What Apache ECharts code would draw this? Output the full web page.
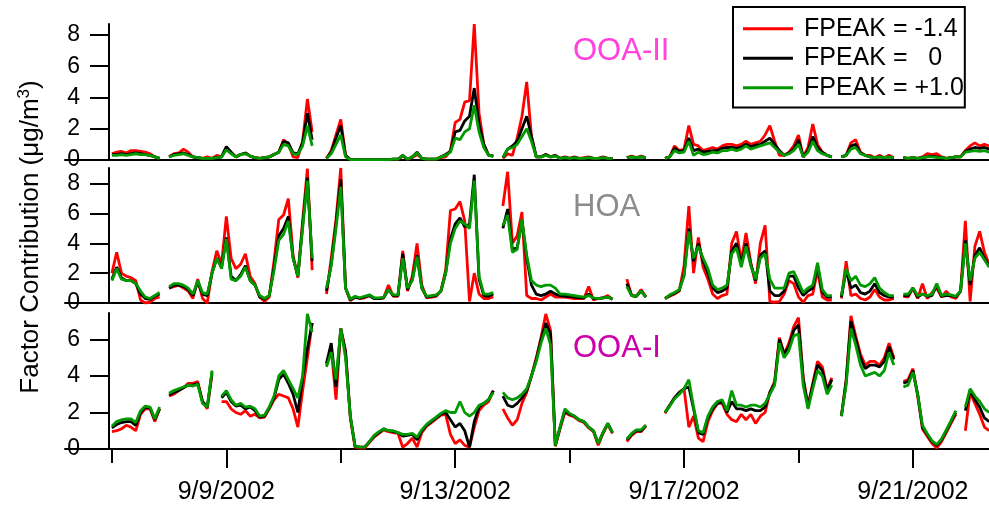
<!DOCTYPE html>
<html>
<head>
<meta charset="utf-8">
<script src="https://cdn.jsdelivr.net/npm/echarts@6/dist/echarts.min.js"></script>
<style>
  html, body { margin: 0; padding: 0; background: #fff; }
  #chart { width: 989px; height: 512px; }
</style>
</head>
<body>
<div id="chart"></div>
<script>
// Samples every 2 hours starting 9/7/2002 00:00; x values are days since then.
const STEP_DAYS = 2 / 24;

const seriesNames = ['FPEAK = -1.4', 'FPEAK =   0', 'FPEAK = +1.0'];
const seriesColors = ['#ff0000', '#000000', '#009900'];
const panelNames = ['OOA-II', 'HOA', 'OOA-I'];
const panelColors = ['#ff44dd', '#8c8c8c', '#cc00aa'];

const tickDays = [2, 6, 10, 14];
const tickLabels = ['9/9/2002', '9/13/2002', '9/17/2002', '9/21/2002'];
const minorTickDays = [0, 4, 8, 12];
const yTicksTop = [0, 2, 4, 6, 8];
const yTicksMid = [0, 2, 4, 6, 8];
const yTicksBottom = [0, 2, 4, 6];

// OOA-II factor contribution (ug/m3)
const ooa2Red = [
  0.4, 0.5, 0.55, 0.45, 0.6, 0.6, 0.55, 0.5, 0.4, 0.2, 0.1, null,
  0.2, 0.4, 0.45, 0.7, 0.5, 0.2, 0.15, 0.1, 0.2, 0.1, 0.3, 0.2,
  0.8, 0.5, 0.2, 0.35, 0.45, 0.25, 0.15, 0.1, 0.15, 0.2, 0.35, 0.5,
  1.3, 1.0, 0.2, 0.15, 1.2, 3.9, 1.8, null, null, 0.1, 0.6, 1.6,
  2.6, 0.3, 0.03, 0.03, 0.03, 0.03, 0.03, 0.03, 0.03, 0.03, 0.03, 0.05,
  0.05, 0.25, 0.05, 0.15, 0.35, 0.1, 0.05, 0.05, 0.05, 0.15, 0.2, 0.6,
  2.4, 2.6, 3.7, 3.8, 8.7, 3.0, 1.0, 0.3, 0.25, null, 0.1, 0.4,
  0.3, 1.4, 2.8, 5.0, 1.5, 0.2, 0.2, 0.35, 0.2, 0.3, 0.1, 0.2,
  0.1, 0.2, 0.1, 0.15, 0.2, 0.1, 0.1, 0.2, 0.1, 0.1, null, null,
  0.15, 0.25, 0.15, 0.25, 0.15, null, null, null, 0.1, 0.2, 0.9, 0.6,
  0.7, 2.2, 1.0, 0.9, 0.6, 0.7, 0.8, 0.7, 0.9, 1.0, 1.0, 0.9,
  1.0, 1.2, 1.0, 1.1, 1.2, 1.6, 2.2, 1.2, 0.3, 0.3, 0.5, 0.9,
  1.6, 0.2, 0.8, 2.3, 1.0, 0.5, 0.3, 0.2, null, 0.2, 0.3, 1.1,
  1.3, 0.5, 0.3, 0.3, 0.15, 0.3, 0.15, 0.3, 0.15, null, 0.15, 0.1,
  0.15, 0.1, 0.2, 0.4, 0.35, 0.4, 0.2, 0.1, 0.15, 0.2, 0.2, 0.6,
  0.9, 1.1, 0.9, 1.0, 0.9
];
const ooa2Black = [
  0.35, 0.35, 0.4, 0.35, 0.4, 0.45, 0.4, 0.35, 0.3, 0.2, 0.1, null,
  0.2, 0.35, 0.4, 0.45, 0.35, 0.2, 0.15, 0.1, 0.1, 0.1, 0.15, 0.2,
  0.85, 0.5, 0.2, 0.35, 0.45, 0.25, 0.15, 0.1, 0.15, 0.2, 0.35, 0.5,
  1.2, 1.1, 0.45, 0.4, 1.1, 3.0, 1.3, null, null, 0.1, 0.5, 1.4,
  2.2, 0.3, 0.03, 0.03, 0.03, 0.03, 0.03, 0.03, 0.03, 0.03, 0.03, 0.05,
  0.05, 0.3, 0.05, 0.2, 0.5, 0.1, 0.05, 0.05, 0.05, 0.2, 0.35, 0.55,
  1.8, 1.9, 2.5, 2.8, 4.6, 2.3, 1.0, 0.3, 0.25, null, 0.15, 0.7,
  0.9, 1.2, 2.0, 2.8, 1.5, 0.2, 0.2, 0.35, 0.2, 0.3, 0.1, 0.15,
  0.1, 0.15, 0.1, 0.1, 0.15, 0.1, 0.1, 0.15, 0.1, 0.1, null, null,
  0.15, 0.2, 0.15, 0.2, 0.15, null, null, null, 0.1, 0.2, 0.75, 0.55,
  0.6, 1.4, 0.6, 0.7, 0.5, 0.55, 0.6, 0.6, 0.75, 0.8, 0.8, 0.75,
  0.85, 1.0, 0.85, 0.95, 1.0, 1.2, 1.4, 1.0, 0.6, 0.3, 0.45, 0.7,
  1.3, 0.2, 0.6, 1.5, 0.8, 0.5, 0.3, 0.2, null, 0.2, 0.3, 0.9,
  1.0, 0.45, 0.3, 0.2, 0.15, 0.2, 0.15, 0.2, 0.15, null, 0.15, 0.1,
  0.15, 0.1, 0.15, 0.2, 0.25, 0.2, 0.15, 0.1, 0.15, 0.2, 0.2, 0.55,
  0.7, 0.8, 0.75, 0.8, 0.7
];
const ooa2Green = [
  0.3, 0.3, 0.35, 0.3, 0.35, 0.4, 0.35, 0.35, 0.3, 0.2, 0.1, null,
  0.2, 0.3, 0.35, 0.4, 0.3, 0.2, 0.15, 0.1, 0.1, 0.1, 0.15, 0.2,
  0.65, 0.4, 0.2, 0.35, 0.4, 0.25, 0.15, 0.1, 0.15, 0.2, 0.35, 0.5,
  1.0, 0.9, 0.4, 0.35, 0.9, 2.2, 0.9, null, null, 0.1, 0.4, 1.0,
  1.6, 0.2, 0.03, 0.03, 0.03, 0.03, 0.03, 0.03, 0.03, 0.03, 0.03, 0.05,
  0.05, 0.3, 0.05, 0.2, 0.45, 0.1, 0.05, 0.05, 0.05, 0.2, 0.3, 0.5,
  1.4, 1.3, 1.8, 2.0, 3.5, 1.8, 0.8, 0.3, 0.25, null, 0.15, 0.7,
  0.8, 1.0, 1.5, 2.0, 1.2, 0.2, 0.2, 0.3, 0.2, 0.25, 0.1, 0.15,
  0.1, 0.15, 0.1, 0.1, 0.15, 0.1, 0.1, 0.15, 0.1, 0.1, null, null,
  0.15, 0.2, 0.15, 0.2, 0.15, null, null, null, 0.1, 0.2, 0.6, 0.45,
  0.5, 1.2, 0.3, 0.5, 0.35, 0.4, 0.5, 0.45, 0.6, 0.6, 0.7, 0.6,
  0.7, 0.9, 0.7, 0.8, 0.9, 1.0, 1.1, 0.8, 0.5, 0.3, 0.4, 0.6,
  1.0, 0.2, 0.5, 1.2, 0.6, 0.4, 0.3, 0.2, null, 0.2, 0.3, 0.7,
  0.8, 0.4, 0.3, 0.2, 0.15, 0.2, 0.15, 0.2, 0.15, null, 0.15, 0.1,
  0.15, 0.1, 0.15, 0.2, 0.2, 0.15, 0.15, 0.1, 0.15, 0.2, 0.2, 0.5,
  0.55, 0.6, 0.55, 0.6, 0.5
];

// HOA factor contribution (ug/m3)
const hoaRed = [
  2.0, 3.4, 2.0, 1.8, 1.7, 1.5, 0.2, 0.0, 0.05, 0.3, 0.4, null,
  1.0, 1.1, 1.2, 1.0, 0.8, 0.3, 1.6, 0.3, 0.0, 2.1, 3.5, 2.6,
  5.8, 3.0, 2.3, 2.6, 3.3, 1.8, 1.3, 0.4, 0.1, 0.4, 2.8, 5.6,
  5.9, 7.0, 3.2, 1.7, 5.5, 9.0, 2.2, null, null, 0.6, 3.0, 5.6,
  9.05, 1.0, 0.15, 0.4, 0.3, 0.35, 0.5, 0.3, 0.3, 0.35, 1.2, 0.45,
  0.45, 3.5, 0.8, 1.8, 4.0, 1.2, 0.35, 0.4, 0.45, 0.8, 2.2, 6.2,
  6.3, 6.8, 5.5, 0.1, 2.0, 0.6, 0.3, 0.3, 0.4, null, 6.5, 8.8,
  4.0, 4.5, 6.1, 0.5, 0.3, 0.3, 0.2, 0.4, 0.6, 0.4, 0.4, 0.4,
  0.35, 0.3, 0.3, 0.3, 1.1, 0.2, 0.3, 0.35, 0.5, 0.25, null, null,
  1.6, 0.5, 0.45, 0.9, 0.4, null, null, null, 0.3, 0.45, 0.6, 0.8,
  2.5, 6.5, 2.0, 4.4, 2.4, 1.6, 0.6, 0.3, 0.5, 0.6, 4.0, 4.8,
  2.8, 4.7, 2.7, 1.3, 4.0, 5.2, 0.1, 0.05, 0.1, 0.6, 1.5, 1.3,
  0.4, 0.05, 0.5, 0.6, 2.2, 0.4, 0.2, 0.2, null, 0.3, 2.8, 0.5,
  0.6, 0.3, 0.2, 0.4, 0.9, 0.4, 0.2, 0.2, 0.3, null, 0.45, 0.4,
  1.0, 0.3, 1.3, 0.3, 0.7, 1.0, 0.4, 0.8, 0.4, 0.3, 0.8, 5.5,
  0.1, 3.8, 4.8, 3.4, 2.6
];
const hoaBlack = [
  1.6, 2.4, 1.7, 1.5, 1.5, 1.3, 0.6, 0.3, 0.25, 0.45, 0.6, null,
  1.0, 1.2, 1.2, 1.1, 0.9, 0.5, 1.4, 0.6, 0.5, 2.0, 3.0, 2.4,
  4.4, 1.8, 1.5, 1.9, 2.5, 1.5, 1.2, 0.4, 0.25, 0.5, 2.4, 4.5,
  5.0, 5.8, 3.0, 1.8, 5.2, 8.4, 2.8, null, null, 0.8, 2.6, 5.3,
  8.3, 1.0, 0.2, 0.4, 0.3, 0.4, 0.5, 0.3, 0.3, 0.35, 0.9, 0.5,
  0.5, 3.3, 0.9, 1.6, 3.2, 1.0, 0.4, 0.45, 0.5, 0.8, 2.0, 4.3,
  5.3, 5.7, 5.1, 5.3, 8.6, 1.6, 0.5, 0.45, 0.6, null, 5.0, 6.3,
  3.6, 3.7, 5.5, 3.0, 1.2, 0.6, 0.5, 0.6, 0.8, 0.6, 0.5, 0.45,
  0.45, 0.4, 0.35, 0.35, 0.6, 0.3, 0.3, 0.35, 0.4, 0.25, null, null,
  1.3, 0.5, 0.45, 0.8, 0.4, null, null, null, 0.3, 0.5, 0.65, 0.85,
  1.9, 5.0, 2.8, 4.0, 2.8, 2.0, 1.0, 0.7, 0.8, 1.0, 3.5, 4.0,
  2.6, 4.0, 2.6, 1.5, 3.2, 3.5, 0.8, 0.5, 0.5, 0.8, 1.8, 1.8,
  1.0, 0.5, 0.8, 1.0, 2.5, 0.7, 0.4, 0.4, null, 0.4, 2.2, 1.0,
  1.2, 0.7, 0.6, 0.8, 1.3, 0.7, 0.5, 0.4, 0.4, null, 0.5, 0.5,
  1.0, 0.4, 0.6, 0.45, 0.5, 1.2, 0.45, 0.5, 0.5, 0.4, 0.8, 4.2,
  1.2, 3.2, 3.7, 3.0, 2.5
];
const hoaGreen = [
  1.5, 2.3, 1.6, 1.5, 1.5, 1.3, 0.8, 0.4, 0.3, 0.5, 0.7, null,
  1.1, 1.3, 1.3, 1.2, 1.0, 0.6, 1.5, 0.7, 0.6, 2.0, 3.0, 2.3,
  4.3, 1.6, 1.5, 1.8, 2.4, 1.5, 1.2, 0.5, 0.3, 0.5, 2.2, 4.2,
  4.6, 5.5, 3.0, 1.8, 5.0, 8.2, 3.0, null, null, 1.0, 2.5, 5.0,
  7.8, 1.0, 0.25, 0.45, 0.35, 0.45, 0.55, 0.35, 0.35, 0.4, 0.9, 0.55,
  0.55, 3.0, 1.0, 1.5, 3.1, 1.0, 0.45, 0.5, 0.55, 0.8, 2.0, 4.0,
  5.0, 5.5, 5.3, 5.0, 8.2, 1.8, 0.6, 0.6, 0.7, null, 5.2, 5.9,
  3.4, 3.6, 5.6, 3.2, 1.5, 1.2, 1.1, 1.2, 1.2, 1.0, 0.6, 0.6,
  0.55, 0.5, 0.45, 0.4, 0.5, 0.35, 0.3, 0.35, 0.4, 0.25, null, null,
  1.1, 0.5, 0.45, 0.8, 0.4, null, null, null, 0.3, 0.55, 0.7, 0.9,
  1.8, 4.8, 3.0, 3.8, 3.0, 2.3, 1.2, 0.9, 1.0, 1.2, 3.3, 3.7,
  2.4, 3.8, 2.5, 1.6, 3.0, 3.3, 1.6, 1.0, 1.0, 1.0, 2.0, 2.1,
  1.4, 0.7, 1.0, 1.2, 2.7, 0.9, 0.5, 0.5, null, 0.5, 2.3, 1.5,
  1.8, 1.2, 1.1, 1.3, 1.7, 1.0, 0.7, 0.5, 0.5, null, 0.6, 0.6,
  1.0, 0.5, 0.6, 0.5, 0.6, 1.3, 0.5, 0.6, 0.55, 0.45, 0.8, 4.0,
  1.5, 3.0, 3.4, 2.9, 2.4
];

// OOA-I factor contribution (ug/m3)
const ooa1Red = [
  0.95, 1.0, 1.1, 1.3, 1.2, 1.0, 1.9, 2.2, 2.2, 1.5, 2.2, null,
  2.9, 3.0, 3.2, 3.35, 3.6, 3.6, 3.7, 2.6, 2.2, 4.1, null, 2.6,
  2.6, 2.2, 2.0, 1.9, 2.1, 1.8, 1.9, 1.7, 1.75, 2.2, 2.7, 3.0,
  2.9, 2.8, 2.2, 1.2, 3.2, 5.0, 6.9, null, null, 4.6, 5.5, 2.7,
  6.6, 5.4, 1.7, 0.1, 0.05, 0.05, 0.35, 0.65, 0.85, 1.05, 0.95, 0.9,
  0.85, 0.1, 0.3, 0.6, 0.1, 0.9, 1.25, 1.45, 1.65, 1.85, 1.9, 0.8,
  0.3, 0.5, 0.2, 0.1, 1.2, 2.1, 2.4, 2.6, 3.2, null, 2.2, 1.7,
  1.3, 1.6, 2.5, 3.1, 4.0, 5.0, 6.1, 7.4, 6.5, 0.15, 1.1, 2.0,
  1.85, 1.75, 1.55, 1.45, 1.15, 0.95, 0.2, 0.85, 1.35, 0.85, null, null,
  0.4, 0.75, 0.95, 0.95, 1.25, null, null, null, 1.95, 2.4, 2.8, 3.1,
  3.3, 1.2, 1.8, 0.6, 0.4, 1.5, 2.1, 2.5, 2.5, 1.9, 1.6, 1.5,
  1.9, 1.6, 1.9, 1.4, 1.8, 2.0, 3.1, 3.7, 6.1, 5.2, 5.8, 6.7,
  7.2, 3.9, 2.4, 3.6, 4.8, 4.5, 3.3, 3.9, null, 1.8, 3.8, 7.3,
  6.2, 5.2, 4.6, 4.8, 4.8, 4.6, 5.0, 5.8, 5.0, null, 3.7, 3.8,
  4.4, 2.9, 1.1, 0.7, 0.3, 0.05, 0.4, 0.9, 1.4, 1.9, null, 1.0,
  3.1, 2.5, 1.9, 1.2, 1.0
];
const ooa1Black = [
  1.15, 1.35, 1.45, 1.5, 1.5, 1.3, 2.0, 2.3, 2.25, 1.6, 2.2, null,
  2.95, 3.1, 3.2, 3.35, 3.5, 3.5, 3.6, 2.6, 2.3, 4.2, null, 2.8,
  3.1, 2.6, 2.35, 2.4, 2.2, 2.3, 2.1, 1.75, 1.8, 2.25, 2.8, 3.8,
  4.1, 3.6, 3.0, 2.0, 3.9, 5.5, 6.9, null, null, 4.7, 5.8, 3.4,
  6.6, 5.3, 1.8, 0.15, 0.1, 0.1, 0.4, 0.7, 0.9, 1.1, 1.0, 0.95,
  0.9, 0.7, 0.75, 0.8, 0.5, 1.0, 1.3, 1.5, 1.7, 1.9, 2.0, 1.6,
  1.2, 1.4, 1.0, 0.1, 1.5, 2.3, 2.5, 2.7, 3.2, null, 2.9, 2.4,
  2.3, 2.5, 2.8, 3.2, 4.0, 4.9, 6.0, 6.9, 6.3, 0.2, 1.2, 2.1,
  1.9, 1.8, 1.6, 1.5, 1.2, 1.0, 0.3, 0.9, 1.4, 0.9, null, null,
  0.5, 0.8, 1.0, 1.0, 1.3, null, null, null, 2.0, 2.4, 2.8, 3.1,
  3.3, 3.4, 2.2, 0.9, 0.8, 1.7, 2.2, 2.5, 2.6, 2.0, 2.6, 2.2,
  2.2, 2.1, 2.2, 2.1, 2.1, 2.3, 3.1, 3.6, 6.0, 5.2, 5.6, 6.5,
  6.8, 3.8, 2.3, 3.5, 4.6, 4.3, 3.2, 3.8, null, 1.8, 3.7, 7.0,
  6.0, 5.0, 4.4, 4.6, 4.6, 4.5, 4.8, 5.6, 4.9, null, 3.6, 3.7,
  4.3, 3.0, 1.2, 0.8, 0.4, 0.2, 0.5, 1.0, 1.5, 2.0, null, 2.1,
  3.2, 2.7, 2.3, 1.7, 1.5
];
const ooa1Green = [
  1.25, 1.5, 1.6, 1.65, 1.65, 1.45, 2.1, 2.35, 2.3, 1.65, 2.3, null,
  3.05, 3.2, 3.3, 3.4, 3.5, 3.45, 3.55, 2.5, 2.3, 4.3, null, 2.9,
  3.2, 2.7, 2.4, 2.5, 2.3, 2.35, 2.2, 1.8, 1.85, 2.3, 2.9, 4.0,
  4.3, 3.8, 3.3, 2.8, 4.0, 7.4, 6.4, null, null, 4.5, 5.3, 3.8,
  6.6, 5.0, 1.8, 0.15, 0.1, 0.1, 0.4, 0.75, 0.95, 1.1, 1.0, 1.0,
  0.9, 0.8, 0.8, 0.85, 0.65, 1.05, 1.35, 1.55, 1.75, 1.95, 2.1, 2.0,
  2.0, 2.6, 2.0, 1.8, 2.0, 2.4, 2.5, 2.7, 3.1, null, 3.1, 2.8,
  2.7, 2.8, 3.0, 3.3, 4.0, 4.8, 5.8, 6.6, 5.7, 0.2, 1.2, 2.2,
  1.95, 1.8, 1.6, 1.5, 1.2, 1.0, 0.3, 0.9, 1.4, 0.9, null, null,
  0.55, 0.85, 1.05, 1.05, 1.3, null, null, null, 2.0, 2.35, 2.75, 3.0,
  3.3, 3.8, 2.3, 1.0, 0.9, 1.8, 2.3, 2.6, 2.7, 2.1, 3.2, 2.4,
  2.4, 2.3, 2.4, 2.4, 2.3, 2.5, 3.0, 3.5, 5.8, 5.0, 5.4, 6.2,
  6.3, 3.5, 2.2, 3.3, 4.3, 4.0, 3.0, 3.5, null, 1.8, 3.5, 6.6,
  5.7, 4.6, 4.0, 4.1, 4.2, 4.0, 4.3, 5.3, 4.6, null, 3.4, 3.5,
  4.2, 3.0, 1.3, 0.85, 0.45, 0.25, 0.55, 1.05, 1.55, 2.1, null, 2.3,
  3.3, 2.9, 2.6, 2.2, 2.0
];

const panels = [
  { values: [ooa2Red, ooa2Black, ooa2Green], yMax: 8.7, yTicks: yTicksTop },
  { values: [hoaRed, hoaBlack, hoaGreen], yMax: 9.05, yTicks: yTicksMid },
  { values: [ooa1Red, ooa1Black, ooa1Green], yMax: 7.45, yTicks: yTicksBottom }
];

const FONT = '"Liberation Sans", Arial, Helvetica, sans-serif';
const X_MIN = -0.82;
const X_MAX = 15.33;
const AXIS_LINE = { show: true, onZero: false, lineStyle: { color: '#000', width: 2 } };

const grids = [
  { left: 65, right: 0, top: 24, height: 136 },
  { left: 65, right: 0, top: 168, height: 135 },
  { left: 65, right: 0, top: 313, height: 136 }
];

const xAxes = [0, 1, 2].map(g => ({
  gridIndex: g, type: 'value', min: X_MIN, max: X_MAX, position: 'bottom',
  axisLine: AXIS_LINE,
  axisTick: g === 2
    ? { show: true, customValues: minorTickDays, length: 14, lineStyle: { color: '#000', width: 2 } }
    : { show: false },
  axisLabel: { show: false },
  splitLine: { show: false }
}));
// labelled date ticks on the bottom panel
xAxes.push({
  gridIndex: 2, type: 'value', min: X_MIN, max: X_MAX, position: 'bottom',
  axisLine: { show: false, onZero: false },
  axisTick: { show: true, customValues: tickDays, length: 19, lineStyle: { color: '#000', width: 2 } },
  axisLabel: {
    show: true, customValues: tickDays, margin: 31,
    formatter: v => tickLabels[tickDays.indexOf(v)] || '',
    fontSize: 25, fontFamily: FONT, color: '#000'
  },
  splitLine: { show: false }
});

const yAxes = panels.map((p, g) => ({
  gridIndex: g, type: 'value', min: 0, max: p.yMax, offset: -44,
  axisLine: AXIS_LINE,
  axisTick: { show: true, customValues: p.yTicks, length: 19, lineStyle: { color: '#000', width: 2 } },
  axisLabel: { show: true, customValues: p.yTicks, margin: 29, fontSize: 23, fontFamily: FONT, color: '#000' },
  splitLine: { show: false }
}));

const series = [];
panels.forEach((p, g) => {
  p.values.forEach((vals, k) => {
    series.push({
      name: seriesNames[k], type: 'line',
      xAxisIndex: g, yAxisIndex: g,
      data: vals.map((v, i) => [i * STEP_DAYS, v]),
      showSymbol: false, symbol: 'none', connectNulls: false,
      color: seriesColors[k],
      lineStyle: { color: seriesColors[k], width: 2.8 },
      itemStyle: { color: seriesColors[k] },
      emphasis: { disabled: true },
      z: 2 + k
    });
  });
});

const chart = echarts.init(document.getElementById('chart'), null, { renderer: 'canvas' });
chart.setOption({
  animation: false,
  backgroundColor: '#fff',
  grid: grids,
  xAxis: xAxes,
  yAxis: yAxes,
  series: series,
  legend: {
    data: seriesNames, orient: 'vertical', left: 733, top: 7,
    padding: [7, 1, 5, 10], itemGap: 0, itemWidth: 50, itemHeight: 3, icon: 'rect',
    borderColor: '#000', borderWidth: 2, backgroundColor: '#fff', selectedMode: false,
    textStyle: { fontSize: 25, fontFamily: FONT, color: '#000', lineHeight: 29.5, padding: [0, 0, 0, 6] }
  },
  graphic: [
    {
      type: 'text', x: 31, y: 237, rotation: Math.PI / 2,
      style: {
        text: '{a|Factor Contribution (μg/m}{s|3}{a|)}',
        align: 'center', verticalAlign: 'middle', fill: '#000',
        rich: {
          a: { fontSize: 26, fontFamily: FONT, lineHeight: 30, fill: '#000' },
          s: { fontSize: 17, fontFamily: FONT, verticalAlign: 'top', fill: '#000' }
        }
      }
    },
    { type: 'text', x: 573, y: 51, style: { text: panelNames[0], fontSize: 31, fontFamily: FONT, fill: panelColors[0], verticalAlign: 'middle' } },
    { type: 'text', x: 573, y: 207, style: { text: panelNames[1], fontSize: 31, fontFamily: FONT, fill: panelColors[1], verticalAlign: 'middle' } },
    { type: 'text', x: 573, y: 348, style: { text: panelNames[2], fontSize: 31, fontFamily: FONT, fill: panelColors[2], verticalAlign: 'middle' } }
  ]
});
</script>
</body>
</html>
